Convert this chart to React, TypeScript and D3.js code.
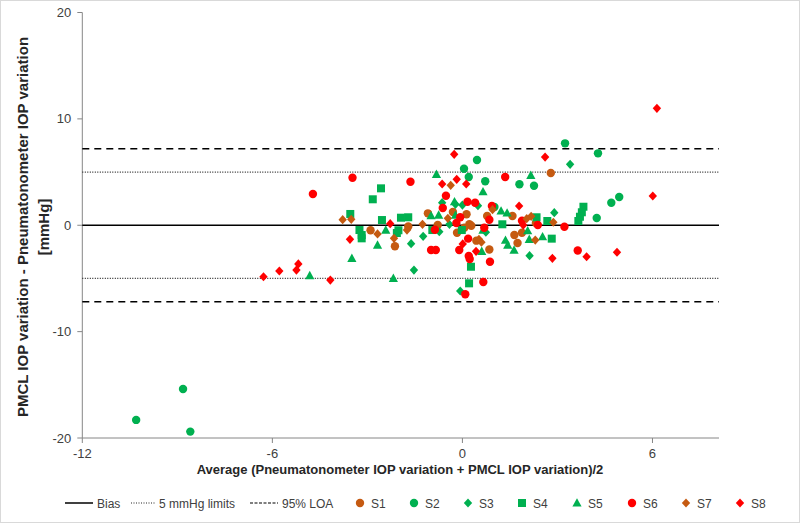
import React from "react";
import * as d3 from "d3";

type P = [number, number];

const S1: P[] = [[2.79,4.91],[-2.9,-0.47],[-1.09,1.12],[-1.71,-0.12],[-2.13,-1.98],[-0.3,1.25],[0.13,1.03],[0.78,0.87],[1.58,0.87],[0.22,0.09],[0.28,-0.04],[-0.17,-0.7],[1.64,-0.92],[0.85,-2.28],[0.44,-1.45],[2.32,0.21],[1.88,-0.7],[1.74,-1.67],[-0.78,0.02],[0.06,-0.23]];
const S2: P[] = [[-10.3,-18.3],[-8.82,-15.39],[-8.59,-19.4],[3.24,7.7],[4.28,6.76],[0.46,6.13],[0.05,5.31],[0.2,4.53],[0.72,4.13],[1.8,3.85],[2.26,3.72],[4.7,2.12],[4.95,2.66],[4.24,0.68],[1.01,1.72]];
const S3: P[] = [[3.4,5.73],[2.9,1.18],[-0.64,2.12],[-0.22,1.97],[0.0,1.9],[0.49,1.84],[-0.41,0.09],[-0.73,-0.61],[-1.24,-1.04],[-1.62,-1.73],[-1.53,-4.21],[0.74,-0.66],[2.12,-2.86],[-0.07,-6.18]];
const S4: P[] = [[-2.57,3.47],[-2.83,2.44],[-3.54,1.06],[-2.54,0.49],[-3.25,-0.45],[-3.18,-0.92],[-3.18,-1.23],[-1.94,0.71],[-1.71,0.75],[-2.02,-0.47],[-2.07,-0.73],[-0.95,-0.45],[-0.02,-0.45],[1.26,0.09],[0.27,-3.9],[0.21,-5.46],[2.34,0.75],[2.68,0.4],[2.82,-1.26],[3.82,1.74],[3.77,1.22],[3.71,0.8],[3.66,0.4]];
const S5: P[] = [[-4.82,-4.74],[-3.49,-3.11],[-2.68,-1.86],[-2.42,-0.45],[-2.18,-4.99],[-0.82,4.79],[-0.25,2.21],[-0.99,0.9],[-0.75,0.96],[-0.22,0.94],[0.65,3.15],[1.22,1.34],[1.41,1.15],[0.65,-0.45],[1.36,-1.41],[1.43,-1.86],[1.63,-2.33],[0.61,-2.45],[2.16,4.69],[2.06,-0.51],[2.11,-1.32],[2.53,-1.08]];
const S6: P[] = [[-4.72,2.94],[-3.47,4.47],[-1.64,4.09],[-0.52,2.78],[-0.62,1.62],[-0.87,-0.42],[-0.99,-2.33],[-0.84,-2.33],[1.35,4.53],[0.16,2.21],[0.4,2.12],[0.93,1.81],[-0.07,0.75],[-0.19,0.21],[0.69,-0.23],[0.18,-1.26],[-0.1,-2.33],[0.2,-2.89],[0.23,-3.17],[0.87,-3.43],[0.66,-5.33],[0.09,-6.49],[1.88,0.43],[2.38,0.02],[3.22,-0.14],[3.64,-2.37],[0.85,0.52]];
const S7: P[] = [[-3.78,0.52],[-3.51,0.56],[-2.68,-0.82],[-2.16,-1.23],[-1.26,0.09],[-0.37,3.75],[-0.46,0.65],[0.95,1.46],[0.52,-1.32],[0.6,-1.6],[2.17,0.84],[2.03,0.62],[2.87,0.28],[2.3,-1.39],[-1.75,-0.45]];
const S8: P[] = [[-6.28,-4.84],[-5.78,-4.3],[-5.24,-4.21],[-5.18,-3.64],[-4.17,-5.15],[-3.55,-1.32],[-2.28,0.15],[-0.26,6.67],[-0.64,3.88],[-0.18,4.32],[0.12,3.88],[0.43,-2.45],[2.61,6.41],[1.79,1.81],[1.92,0.02],[2.84,-3.11],[3.92,-2.96],[4.88,-2.54],[6.01,2.75],[6.14,10.99],[0.01,-1.76]];

const bias = 0;
const limit5 = [5, -5];
const loa = [7.2, -7.2];

const xTicks = [-12, -6, 0, 6];
const yTicks = [20, 10, 0, -10, -20];

const seriesNames = ["S1", "S2", "S3", "S4", "S5", "S6", "S7", "S8"];
const seriesData = [S1, S2, S3, S4, S5, S6, S7, S8];
const seriesShape = ["circle", "circle", "diamond", "square", "triangle", "circle", "diamond", "diamond"];
const seriesColor = ["#C55A11", "#00B050", "#00B050", "#00B050", "#00B050", "#FF0000", "#C55A11", "#FF0000"];

const FONT = "'Liberation Sans', Arial, sans-serif";

function marker(shape: string, cx: number, cy: number, color: string, key: any) {
  if (shape === "circle") return <circle key={key} cx={cx} cy={cy} r={4.2} fill={color} />;
  if (shape === "square") return <rect key={key} x={cx - 4} y={cy - 4} width={8} height={8} fill={color} />;
  if (shape === "diamond") {
    const p = d3.path();
    p.moveTo(cx, cy - 4.6); p.lineTo(cx + 4.2, cy); p.lineTo(cx, cy + 4.6); p.lineTo(cx - 4.2, cy); p.closePath();
    return <path key={key} d={p.toString()} fill={color} />;
  }
  const p = d3.path();
  p.moveTo(cx, cy - 4.8); p.lineTo(cx + 4.6, cy + 3.6); p.lineTo(cx - 4.6, cy + 3.6); p.closePath();
  return <path key={key} d={p.toString()} fill={color} />;
}

export default function App() {
  const x = d3.scaleLinear().domain([-12, 8.1]).range([82.3, 719]);
  const y = d3.scaleLinear().domain([-20, 20]).range([438, 12.5]);
  const x0 = x(-12), x1 = x(8.1);
  const legendItems = [
    { x: 360, name: "S1" }, { x: 414, name: "S2" }, { x: 468, name: "S3" }, { x: 522, name: "S4" },
    { x: 577, name: "S5" }, { x: 632, name: "S6" }, { x: 686, name: "S7" }, { x: 740, name: "S8" },
  ];
  const ly = 503;
  return (
    <svg width={800} height={523} style={{ position: "absolute", left: 0, top: 0, background: "#fff" }} fontFamily={FONT}>
      <rect x={0.5} y={0.5} width={799} height={522} fill="#fff" stroke="#D9D9D9" />
      {/* axes */}
      <line x1={x0} x2={x0} y1={y(20)} y2={y(-20)} stroke="#868686" strokeWidth={1} />
      <line x1={x0} x2={x1} y1={y(-20)} y2={y(-20)} stroke="#868686" strokeWidth={1} />
      {yTicks.map((t) => (
        <g key={"yt" + t}>
          <line x1={x0 - 5} x2={x0} y1={y(t)} y2={y(t)} stroke="#868686" />
          <text x={x0 - 11} y={y(t) + 4.5} textAnchor="end" fontSize={13} fill="#404040">{t}</text>
        </g>
      ))}
      {xTicks.map((t) => (
        <g key={"xt" + t}>
          <line x1={x(t)} x2={x(t)} y1={y(-20)} y2={y(-20) + 5} stroke="#868686" />
          <text x={x(t)} y={y(-20) + 20} textAnchor="middle" fontSize={13} fill="#404040">{t}</text>
        </g>
      ))}
      {/* reference lines */}
      <line x1={x0} x2={x1} y1={y(bias)} y2={y(bias)} stroke="#000" strokeWidth={1.5} />
      {limit5.map((v) => (
        <line key={"l5" + v} x1={x0} x2={x1} y1={y(v)} y2={y(v)} stroke="#262626" strokeWidth={1.2} strokeDasharray="1,1.5" />
      ))}
      {loa.map((v) => (
        <line key={"loa" + v} x1={x0} x2={x1} y1={y(v)} y2={y(v)} stroke="#000" strokeWidth={1.5} strokeDasharray="7,5" />
      ))}
      {/* points */}
      {seriesData.map((data, si) => (
        <g key={"s" + si}>
          {data.map((d, i) => marker(seriesShape[si], x(d[0]), y(d[1]), seriesColor[si], i))}
        </g>
      ))}
      {/* axis titles */}
      <text x={400} y={474} textAnchor="middle" fontSize={13} fontWeight="bold" fill="#262626">
        Average (Pneumatonometer IOP variation + PMCL IOP variation)/2
      </text>
      <g transform="translate(28,227) rotate(-90)">
        <text x={0} y={0} textAnchor="middle" fontSize={15} fontWeight="bold" fill="#262626">
          PMCL IOP variation - Pneumatonometer IOP variation
        </text>
        <text x={0} y={21} textAnchor="middle" fontSize={15} fontWeight="bold" fill="#262626">[mmHg]</text>
      </g>
      {/* legend */}
      <line x1={65} x2={93} y1={ly} y2={ly} stroke="#000" strokeWidth={1.5} />
      <text x={97} y={ly + 4.5} fontSize={12} fill="#404040">Bias</text>
      <line x1={131} x2={156} y1={ly} y2={ly} stroke="#262626" strokeWidth={1.2} strokeDasharray="1,1.5" />
      <text x={159} y={ly + 4.5} fontSize={12} fill="#404040">5 mmHg limits</text>
      <line x1={250} x2={278} y1={ly} y2={ly} stroke="#000" strokeWidth={1.2} strokeDasharray="3,1.5" />
      <text x={282} y={ly + 4.5} fontSize={12} fill="#404040">95% LOA</text>
      {legendItems.map((it, i) => (
        <g key={"lg" + i}>
          {marker(seriesShape[i], it.x, ly, seriesColor[i], "m")}
          <text x={it.x + 11} y={ly + 4.5} fontSize={12} fill="#404040">{seriesNames[i]}</text>
        </g>
      ))}
    </svg>
  );
}
